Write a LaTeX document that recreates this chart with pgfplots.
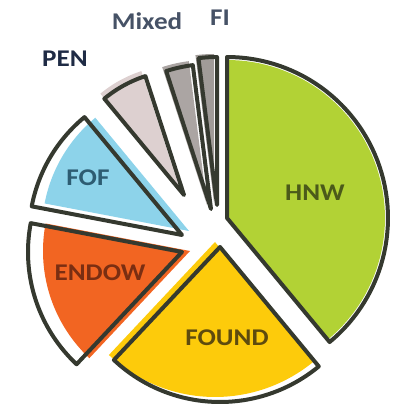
\documentclass[border=0pt]{standalone}
\usepackage{pgfplots}
\pgfplotsset{compat=1.18}
\usepackage{pgfplotstable}
\usepackage{fontspec}
\setmainfont{Carlito}
\newfontfamily\lblfont{Carlito}[FakeStretch=1.13]
\definecolor{cHNW}{HTML}{B2D235}
\definecolor{cFOUND}{HTML}{FDCB0B}
\definecolor{cENDOW}{HTML}{F26522}
\definecolor{cFOF}{HTML}{8DD3EA}
\definecolor{cPEN}{HTML}{DDD0D0}
\definecolor{cMixed}{HTML}{ABA5A3}
\definecolor{cFI}{HTML}{A09B98}
\definecolor{outl}{HTML}{35392F}
\definecolor{tHNW}{HTML}{4B5A1A}
\definecolor{tFOUND}{HTML}{5E4B0E}
\definecolor{tENDOW}{HTML}{7A2E12}
\definecolor{tFOF}{HTML}{2D5C72}
\definecolor{tPEN}{HTML}{1F2B45}
\definecolor{tMixed}{HTML}{465266}

\pgfplotstableread{
label value
HNW 39
FOUND 23
ENDOW 16
FOF 11
PEN 6
Mixed 3
FI 2
}\piedata

% #1 row, #2 cx, #3 cy, #4 r, #5 style
\newcommand\pwedge[5]{%
  \edef\dmin{\csname lo#1\endcsname}%
  \edef\dmax{\csname hi#1\endcsname}%
  \addplot[#5, domain=\dmin:\dmax, samples=60, variable=\t, line join=round]
    ({#2+#4*cos(\t)},{#3+#4*sin(\t)}) -- (axis cs:#2,#3) -- cycle;
}
\newcommand\lbl{\lblfont\bfseries\fontsize{24}{24}\selectfont}

\begin{document}
\begin{tikzpicture}
\def\cum{90}
\pgfplotsforeachungrouped \i in {0,...,6}{%
  \pgfplotstablegetelem{\i}{value}\of\piedata
  \pgfmathsetmacro\nxt{\cum-3.6*\pgfplotsretval}%
  \expandafter\xdef\csname hi\i\endcsname{\cum}%
  \expandafter\xdef\csname lo\i\endcsname{\nxt}%
  \global\let\cum\nxt
}
\begin{axis}[
  width=403pt, height=408pt, scale only axis,
  xmin=0, xmax=403, ymin=0, ymax=408,
  hide axis, clip=false,
]
% HNW
\pwedge{0}{227}{190}{158}{fill=cHNW, draw=none}
\pwedge{0}{227}{190}{161}{draw=outl, line width=4pt, fill=none}
% FOUND
\pwedge{1}{215}{166}{155}{fill=cFOUND, draw=none}
\pwedge{1}{220}{161}{155}{draw=outl, line width=4pt, fill=none}
% ENDOW
\pwedge{2}{190}{157}{147}{fill=cENDOW, draw=none}
\pwedge{2}{182}{156}{154}{draw=outl, line width=4pt, fill=none}
% FOF
\pwedge{3}{189}{177}{147}{fill=cFOF, draw=none}
\pwedge{3}{182}{173}{153}{draw=outl, line width=4pt, fill=none}
% PEN
\pwedge{4}{180}{218}{125}{fill=cPEN, draw=none}
\pwedge{4}{184}{213}{125}{draw=outl, line width=4pt, fill=none}
% Mixed
\pwedge{5}{207}{203}{145}{fill=cMixed, draw=none}
\pwedge{5}{211}{199}{145}{draw=outl, line width=4pt, fill=none}
% FI
\pwedge{6}{214}{206}{148}{fill=cFI, draw=none}
\pwedge{6}{217}{203}{148}{draw=outl, line width=4pt, fill=none}

\node[text=tHNW, font=\lbl] at (axis cs:315,215) {HNW};
\node[text=tFOUND, font=\lbl] at (axis cs:227,70) {FOUND};
\node[text=tENDOW, font=\lbl] at (axis cs:100,135) {ENDOW};
\node[text=tFOF, font=\lbl] at (axis cs:88,230) {FOF};
\node[text=tPEN, font=\lbl] at (axis cs:65,349) {PEN};
\node[text=tMixed, font=\lbl] at (axis cs:147,387) {Mixed};
\node[text=tMixed, font=\lbl] at (axis cs:220,390) {FI};
\end{axis}
\pgfresetboundingbox
\path[use as bounding box] (current axis.south west) rectangle (current axis.north east);
\end{tikzpicture}
\end{document}
